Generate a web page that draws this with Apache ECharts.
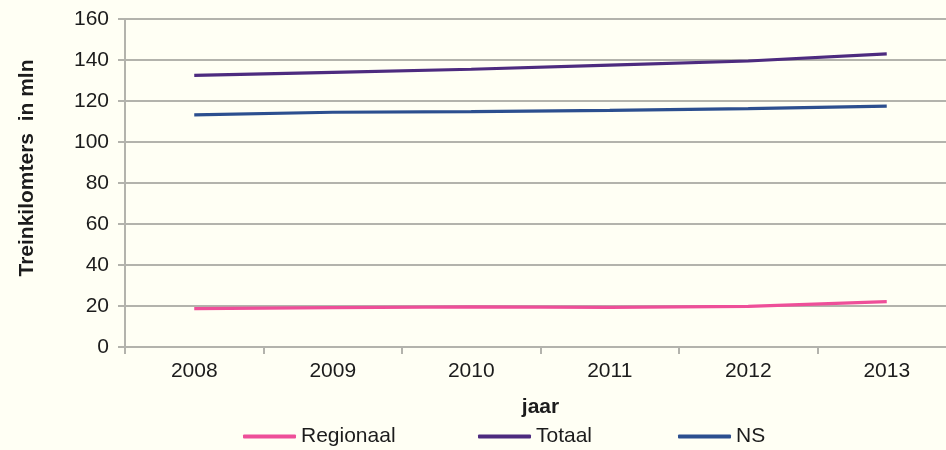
<!DOCTYPE html>
<html>
<head>
<meta charset="utf-8">
<script src="https://cdn.jsdelivr.net/npm/echarts@6/dist/echarts.min.js"></script>
<style>
  html, body { margin: 0; padding: 0; background: #fffff4; }
  #chart { width: 946px; height: 450px; }
</style>
</head>
<body>
<div id="chart"></div>
<script>
// Train kilometres per year (millions)
const years = ['2008', '2009', '2010', '2011', '2012', '2013'];
const regionaal = [18.7, 19.2, 19.6, 19.3, 19.8, 22.1];
const totaal = [132.5, 134.0, 135.5, 137.5, 139.5, 143.0];
const ns = [113.2, 114.5, 114.8, 115.4, 116.3, 117.5];
const yTicks = [0, 20, 40, 60, 80, 100, 120, 140, 160];
const seriesNames = ['Regionaal', 'Totaal', 'NS'];

const FONT = 'Liberation Sans, Arial, sans-serif';
const TEXT = '#1c1c1c';
const GRID = '#b3b3ac';
const FS = 21;

const chart = echarts.init(document.getElementById('chart'), null, { renderer: 'canvas' });

function lineSeries(name, data, color) {
  return {
    name: name,
    type: 'line',
    data: data,
    symbol: 'none',
    smooth: false,
    lineStyle: { color: color, width: 3.2 },
    itemStyle: { color: color },
    z: 3
  };
}

// one legend block per series so each entry sits at its own spot
const legendLefts = [243, 478, 678];
const legends = seriesNames.map(function (name, i) {
  return {
    left: legendLefts[i],
    top: 426,
    padding: 0,
    itemWidth: 53,
    itemHeight: 4,
    icon: 'roundRect',
    textStyle: { fontFamily: FONT, fontSize: FS, color: TEXT },
    data: [name]
  };
});

chart.setOption({
  backgroundColor: '#fffff4',
  animation: false,
  textStyle: { fontFamily: FONT, color: TEXT },
  grid: {
    left: 125, top: 19, width: 831, height: 328,
    containLabel: false,
    outerBoundsMode: 'none'
  },
  xAxis: {
    type: 'category',
    data: years,
    boundaryGap: true,
    name: 'jaar',
    nameLocation: 'middle',
    nameGap: 50,
    nameTextStyle: { fontFamily: FONT, fontSize: FS, fontWeight: 'bold', color: TEXT },
    axisLine: { lineStyle: { color: GRID, width: 2 } },
    axisTick: { show: true, length: 7, lineStyle: { color: GRID, width: 2 } },
    axisLabel: { fontFamily: FONT, fontSize: FS, color: TEXT, margin: 14 }
  },
  yAxis: {
    type: 'value',
    min: yTicks[0],
    max: yTicks[yTicks.length - 1],
    interval: 20,
    axisLine: { show: true, lineStyle: { color: GRID, width: 2 } },
    axisTick: { show: true, length: 7, lineStyle: { color: GRID, width: 2 } },
    axisLabel: { fontFamily: FONT, fontSize: FS, color: TEXT, margin: 16 },
    splitLine: { show: true, lineStyle: { color: GRID, width: 2 } }
  },
  legend: legends,
  graphic: [{
    type: 'text',
    x: 27,
    y: 168,
    rotation: Math.PI / 2,
    style: {
      text: 'Treinkilomters  in mln',
      fontFamily: FONT,
      fontSize: FS,
      fontWeight: 'bold',
      fill: TEXT,
      align: 'center',
      verticalAlign: 'middle'
    }
  }],
  series: [
    lineSeries(seriesNames[0], regionaal, '#ee4f99'),
    lineSeries(seriesNames[1], totaal, '#4d2b7f'),
    lineSeries(seriesNames[2], ns, '#2c4f8f')
  ]
});
</script>
</body>
</html>
